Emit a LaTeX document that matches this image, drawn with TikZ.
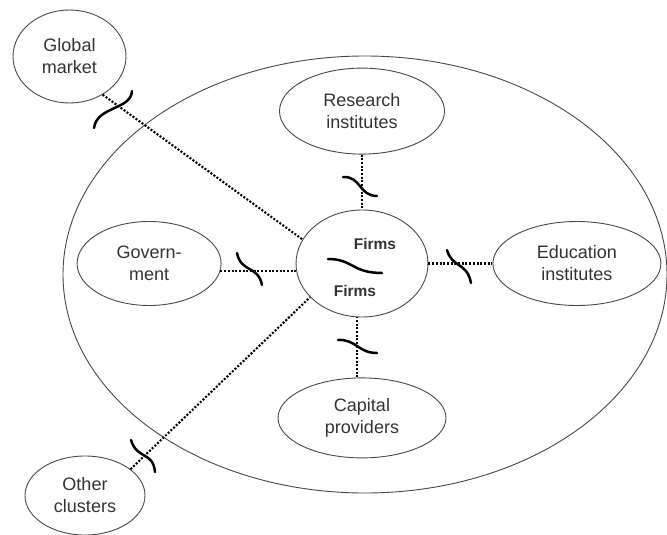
\documentclass[tikz,border=0pt]{standalone}
\usepackage{fontspec}
\setmainfont{Liberation Sans}
\usetikzlibrary{shapes.geometric, positioning}
\definecolor{inkgray}{HTML}{333333}
\definecolor{rimgray}{HTML}{484848}
\tikzset{
    actor/.style={ellipse, draw=rimgray, line width=0.9pt, inner sep=0pt, align=center, text=inkgray, font=\fontsize{18}{22}\selectfont},
    firmlabel/.style={font=\fontsize{15.5}{18}\selectfont\bfseries, text=inkgray},
    link/.style={line width=2.1pt, dash pattern=on 2pt off 1.7pt},
    tie/.style={line width=2.5pt, line cap=round},
}
\begin{document}
\begin{tikzpicture}[x=1pt, y=-1pt]
    \useasboundingbox (0,0) rectangle (667,535);
    % Cluster boundary
    \node[ellipse, draw=rimgray, line width=0.9pt, minimum width=604pt, minimum height=437pt] (cluster) at (365,274.5) {};

    % Firms at the core
    \node[actor, minimum width=132pt, minimum height=107pt] (firms) at (362,263.5) {};
    \node[firmlabel] (firmsa) at (375,243.5) {Firms};
    \node[firmlabel] (firmsb) at (355,290.5) {Firms};
    \draw[tie] (328,259) .. controls (353,259) and (352,273) .. (382,273);

    % Actors inside the cluster
    \node[actor, minimum width=165pt, minimum height=86pt, above=55pt of firms] (research) {Research\\institutes};
    \node[actor, minimum width=168pt, minimum height=80pt, below=60pt of firms] (capital) {Capital\\providers};
    \node[actor, minimum width=144pt, minimum height=84pt, left=74pt of firms] (gov) {Govern-\\ment};
    \node[actor, minimum width=168pt, minimum height=84pt, right=64pt of firms] (edu) {Education\\institutes};

    % Actors outside
    \node[actor, minimum width=113pt, minimum height=93pt] (global) at (69.5,56.5) {Global\\market};
    \node[actor, minimum width=120pt, minimum height=79pt] (others) at (85,495.5) {Other\\clusters};

    % Links
    \coordinate (capin) at ([xshift=-5pt]capital.north);
    \draw[link] (global.311) -- (firms.158);
    \draw[link] (others.30) -- (firms.213);
    \draw[link] (gov.354) -- (gov.354 -| firms.west);
    \draw[link] (firms) -- (edu);
    \draw[link] (research) -- (firms);
    \draw[link] (capin) -- (capin |- firms.south);

    % Ties
    \draw[tie] (132,91) .. controls (131,110) and (97,106) .. (94,128);
    \draw[tie] (131,440) .. controls (137,460) and (153,451) .. (155,472);
    \draw[tie] (237,253) .. controls (241,273) and (258,265) .. (262,285);
    \draw[tie] (447,250) .. controls (452,268) and (467,262) .. (471,283);
    \draw[tie] (343,177) .. controls (361,176) and (359,196) .. (377,196);
    \draw[tie] (338,340) .. controls (356,339) and (358,353) .. (377,353);
\end{tikzpicture}
\end{document}
